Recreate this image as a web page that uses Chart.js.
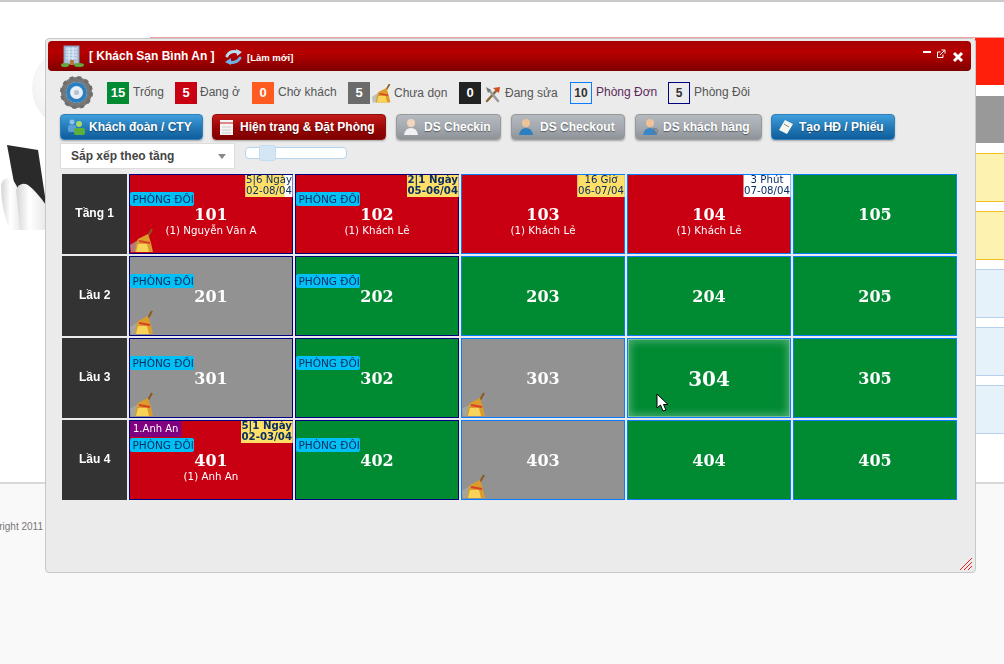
<!DOCTYPE html>
<html>
<head>
<meta charset="utf-8">
<script src="https://cdn.jsdelivr.net/npm/chart.js@4"></script>
<style>
html, body { margin: 0; padding: 0; }
body { width: 1004px; height: 664px; overflow: hidden; position: relative; background: #fff; font-family: "Liberation Sans", Arial, sans-serif; }
.abs, .count, .lbl, .btn, svg.abs, #roomChart, canvas.abs { position: absolute; }
.side { position: absolute; left: 975px; width: 29px; }
#win { position: absolute; left: 45px; top: 38px; width: 929px; height: 533px; background: #ebebeb; border: 1px solid #c8c8c8; border-radius: 4px; box-sizing: content-box; }
#bar { position: absolute; left: 48px; top: 41px; width: 923px; height: 30px; border-radius: 4px; background: linear-gradient(#a60000, #b70000 35%, #a50000 60%, #7e0000); }
.count { top: 82px; width: 22px; height: 22px; line-height: 22px; text-align: center; color: #fff; font-weight: bold; font-size: 13px; }
.lbl { top: 84px; font-size: 12px; line-height: 16px; color: #555; white-space: nowrap; }
.btn { top: 114px; height: 26px; box-sizing: border-box; border-radius: 4px; color: #fff; font-weight: bold; font-size: 12px; line-height: 25px; text-shadow: 0 1px 1px rgba(0,0,0,.45); white-space: nowrap; box-shadow: 0 1px 2px rgba(0,0,0,.3); }
.btn span { position: absolute; top: 0; }
.blue { background: linear-gradient(#3f9fdc, #2277b5 55%, #0e5d9c); border: 1px solid #2f7fb8; }
.red { background: linear-gradient(#c41a1a, #9a0505 55%, #7e0000); border: 1px solid #8a1010; }
.gray { background: linear-gradient(#b5bac0, #a3a8ae 55%, #8e9399); border: 1px solid #9a9a9a; }
</style>
</head>
<body>

<!-- page behind the window -->
<div class="abs" style="left:0;top:0;width:1004px;height:2px;background:#c9c9c9"></div>
<div class="abs" style="left:150px;top:37px;width:854px;height:1px;background:#f0a0a0"></div>
<div class="abs" style="left:0;top:482px;width:1004px;height:182px;background:#f9f9f9;border-top:2px solid #d8d8d8;box-sizing:border-box"></div>
<div class="abs" style="left:0;top:520px;width:45px;height:14px;overflow:hidden;font-size:10px;line-height:14px;color:#777"><span style="position:absolute;right:2px;white-space:nowrap">Copyright 2011</span></div>
<svg class="abs" style="left:0;top:40px" width="60" height="200">
  <defs>
    <radialGradient id="ball" cx=".35" cy=".4" r=".8"><stop offset="0" stop-color="#fff"/><stop offset=".7" stop-color="#eee"/><stop offset="1" stop-color="#cfcfcf"/></radialGradient>
    <linearGradient id="arm" x1="0" x2="1"><stop offset="0" stop-color="#d4d4d4"/><stop offset=".45" stop-color="#fff"/><stop offset="1" stop-color="#e8e8e8"/></linearGradient>
  </defs>
  <circle cx="72" cy="48" r="40" fill="url(#ball)"/>
  <path d="M7 105 L38 110 L46 163 L46 175 L20 175 Z" fill="#2a2a2a"/>
  <path d="M1 145 Q3 136 12 139 Q17 145 18 150 L22 190 L10 190 Q1 170 1 145 Z" fill="url(#arm)"/>
  <path d="M16 150 Q20 141 28 145 Q36 151 46 165 L46 190 L20 190 Z" fill="url(#arm)"/>
</svg>
<div class="side" style="top:38px;height:47px;background:#ff1f0a"></div>
<div class="side" style="top:96px;height:47px;background:#999"></div>
<div class="side" style="top:153px;height:47px;background:#fdf2b0;border-top:1px solid #f0c020;border-bottom:1px solid #f0c020"></div>
<div class="side" style="top:211px;height:47px;background:#fdf2b0;border-top:1px solid #f0c020;border-bottom:1px solid #f0c020"></div>
<div class="side" style="top:269px;height:47px;background:#e6f2f9;border-top:1px solid #b9cfee;border-bottom:1px solid #b9cfee"></div>
<div class="side" style="top:327px;height:47px;background:#e6f2f9;border-top:1px solid #b9cfee;border-bottom:1px solid #b9cfee"></div>
<div class="side" style="top:385px;height:47px;background:#e6f2f9;border-top:1px solid #b9cfee;border-bottom:1px solid #b9cfee"></div>

<!-- window -->
<div id="win"></div>
<div id="bar"></div>
<svg class="abs" style="left:61px;top:44px" width="24" height="24">
  <rect x="3" y="2" width="15" height="18" fill="#a9c2de" stroke="#8397ad"/>
  <path d="M5 5h11M5 8h11M5 11h11M5 14h11M8 3v14M12 3v14" stroke="#e6eef7" stroke-width="1"/>
  <rect x="9" y="16" width="4" height="5" fill="#b57a3c"/>
  <ellipse cx="4" cy="21" rx="4" ry="2" fill="#62a83c"/><ellipse cx="18" cy="21" rx="5" ry="2" fill="#62a83c"/>
</svg>
<div class="abs" style="left:89px;top:49px;color:#fff;font-weight:bold;font-size:12px;line-height:15px;white-space:nowrap" id="hotelName"></div>
<svg class="abs" style="left:224px;top:48px" width="19" height="18" fill="none" stroke-linecap="round">
  <path d="M3 8 Q6 2 14 4" stroke="#b9dcf5" stroke-width="3"/><path d="M12 1 L18 4 L13 8 Z" fill="#b9dcf5"/>
  <path d="M16 10 Q12 16 5 14" stroke="#6fb0e6" stroke-width="3"/><path d="M7 10 L1 14 L7 17 Z" fill="#6fb0e6"/>
</svg>
<div class="abs" style="left:247px;top:51px;color:#fff;font-weight:bold;font-size:9.5px;line-height:13px;white-space:nowrap">[Làm mới]</div>
<div class="abs" style="left:923px;top:51px;width:8px;height:2px;background:#fff"></div>
<svg class="abs" style="left:936px;top:49px" width="10" height="10" fill="none" stroke="#fff"><path d="M7 5.5V8.5H1.5V3H4.5"/><path d="M4 6L8.5 1.5M5.5 1H9V4.5"/></svg>
<svg class="abs" style="left:952px;top:51px" width="12" height="12" stroke="#fff" stroke-width="3"><path d="M2 2L10 10M10 2L2 10"/></svg>

<!-- legend -->
<svg class="abs" style="left:60px;top:76px" width="33" height="33">
  <circle cx="16.5" cy="16.5" r="13" fill="none" stroke="#777" stroke-width="5"/>
  <circle cx="16.5" cy="16.5" r="15" fill="none" stroke="#6d6d6d" stroke-width="3" stroke-dasharray="4 3.9"/>
  <circle cx="16.5" cy="16.5" r="10.5" fill="#2a7fc0"/><circle cx="16.5" cy="16.5" r="6.5" fill="#e8eef3"/><circle cx="16.5" cy="16.5" r="2.5" fill="#b5c2cc"/>
</svg>
<div class="count" style="left:107px;background:#008a32"></div><div class="lbl" style="left:133px"></div>
<div class="count" style="left:175px;background:#c90012"></div><div class="lbl" style="left:200px"></div>
<div class="count" style="left:252px;background:#ff5a1f"></div><div class="lbl" style="left:278px"></div>
<div class="count" style="left:348px;background:#6b6b6b"></div><canvas class="abs" id="legendBroom" style="left:372px;top:84px" width="20" height="20"></canvas><div class="lbl" style="left:394px;top:85px"></div>
<div class="count" style="left:459px;background:#222"></div>
<svg class="abs" style="left:484px;top:85px" width="17" height="18" stroke-linecap="round"><path d="M3 16L13 5" stroke="#8a6a3a" stroke-width="2.5"/><path d="M14 16L5 5" stroke="#999" stroke-width="2.5"/><path d="M9 3L16 2L15 8Z" fill="#d94b1e"/><path d="M2 2L7 5L4 8Z" fill="#777"/></svg>
<div class="lbl" style="left:505px;top:85px"></div>
<div class="count" style="left:570px;box-sizing:border-box;border:1px solid #0a7cff;color:#333;line-height:21px;font-size:12px"></div><div class="lbl" style="left:596px;color:#5c2a5c"></div>
<div class="count" style="left:668px;box-sizing:border-box;border:1px solid #000080;color:#333;line-height:21px;font-size:12px"></div><div class="lbl" style="left:694px"></div>

<!-- toolbar -->
<div class="btn blue" style="left:60px;width:143px"><span style="left:28px">Khách đoàn / CTY</span></div>
<div class="btn red" style="left:212px;width:174px"><span style="left:27px">Hiện trạng &amp; Đặt Phòng</span></div>
<div class="btn gray" style="left:396px;width:105px"><span style="left:27px">DS Checkin</span></div>
<div class="btn gray" style="left:511px;width:114px"><span style="left:28px">DS Checkout</span></div>
<div class="btn gray" style="left:635px;width:127px"><span style="left:27px">DS khách hàng</span></div>
<div class="btn blue" style="left:771px;width:124px"><span style="left:27px">Tạo HĐ / Phiếu</span></div>
<svg class="abs" style="left:66px;top:117px" width="20" height="20"><circle cx="6" cy="5" r="2.5" fill="#8fc4ea"/><rect x="2" y="8" width="8" height="7" rx="2" fill="#5aa0d8"/><circle cx="13" cy="7" r="3" fill="#a6d86a"/><rect x="8" y="11" width="11" height="7" rx="2" fill="#5bb03c"/></svg>
<svg class="abs" style="left:219px;top:118px" width="16" height="18"><rect x="1" y="2" width="13" height="15" fill="#f4f4f4"/><path d="M1 5h13" stroke="#d88" stroke-width="2"/><path d="M3 9h9M3 12h9M3 15h9" stroke="#ccc"/></svg>
<svg class="abs" style="left:403px;top:118px" width="16" height="18"><circle cx="8" cy="5" r="4" fill="#f1d6bb"/><path d="M1 17Q2 10 8 10T15 17Z" fill="#f1f1f1"/></svg>
<svg class="abs" style="left:518px;top:118px" width="16" height="18"><circle cx="8" cy="5" r="4" fill="#eec39a"/><path d="M1 17Q2 10 8 10T15 17Z" fill="#2f7fc0"/></svg>
<svg class="abs" style="left:642px;top:118px" width="18" height="18"><circle cx="8" cy="5" r="4" fill="#eec39a"/><path d="M1 17Q2 10 8 10T15 17Z" fill="#3b86c6"/><circle cx="13" cy="13" r="2.5" fill="none" stroke="#777"/></svg>
<svg class="abs" style="left:778px;top:118px" width="17" height="18"><path d="M7 2L15 6L9 16L1 12Z" fill="#f6f6f0"/><path d="M6 6L11 9" stroke="#888"/></svg>

<div class="abs" style="left:60px;top:143px;width:175px;height:26px;box-sizing:border-box;background:#fff;border:1px solid #ddd;font-size:12px;font-weight:bold;line-height:24px;color:#444;padding-left:10px;white-space:nowrap">Sắp xếp theo tầng</div>
<div class="abs" style="left:218px;top:154px;width:0;height:0;border-left:4px solid transparent;border-right:4px solid transparent;border-top:5px solid #888"></div>
<div class="abs" style="left:245px;top:147px;width:102px;height:12px;box-sizing:border-box;background:#fff;border:1px solid #b4d4ee;border-radius:4px"></div>
<div class="abs" style="left:259px;top:145px;width:17px;height:16px;box-sizing:border-box;background:#d4e6f4;border:1px solid #c2dcf0;border-radius:3px"></div>

<!-- room grid -->
<canvas id="roomChart" style="left:62px;top:173px" width="896" height="328"></canvas>

<svg class="abs" style="left:959px;top:557px" width="14" height="14" stroke="#e22" stroke-width="1"><path d="M1 13L13 1M5 13L13 5M9 13L13 9"/></svg>
<svg class="abs" style="left:656px;top:393px" width="14" height="20"><path d="M1 1V15L4.5 12L7 18L10 17L7.5 11.5H12Z" fill="#fff" stroke="#000"/></svg>

<script>
const hotelName = "[ Khách Sạn Bình An ]";
const legendCounts = [15, 5, 0, 5, 0, 10, 5];
const legendLabels = ["Trống", "Đang ở", "Chờ khách", "Chưa dọn", "Đang sửa", "Phòng Đơn", "Phòng Đôi"];

const floors = ["Tầng 1", "Lầu 2", "Lầu 3", "Lầu 4"];
const roomNumbers = [
    ["101", "102", "103", "104", "105"],
    ["201", "202", "203", "204", "205"],
    ["301", "302", "303", "304", "305"],
    ["401", "402", "403", "404", "405"],
];
// o = occupied, t = free, c = needs cleaning
const roomStatus = [
    ["o", "o", "o", "o", "t"],
    ["c", "t", "t", "t", "t"],
    ["c", "t", "c", "t", "t"],
    ["o", "t", "c", "t", "t"],
];
const doubleRooms = [
    [1, 1, 0, 0, 0],
    [1, 1, 0, 0, 0],
    [1, 1, 0, 0, 0],
    [1, 1, 0, 0, 0],
];
const guests = [
    ["(1) Nguyễn Văn A", "(1) Khách Lẻ", "(1) Khách Lẻ", "(1) Khách Lẻ", null],
    [null, null, null, null, null],
    [null, null, null, null, null],
    ["(1) Anh An", null, null, null, null],
];
const stayLength = [
    ["5|6 Ngày", "2|1 Ngày", "16 Giờ", "3 Phút", null],
    [null, null, null, null, null],
    [null, null, null, null, null],
    ["5|1 Ngày", null, null, null, null],
];
const stayDates = [
    ["02-08/04", "05-06/04", "06-07/04", "07-08/04", null],
    [null, null, null, null, null],
    [null, null, null, null, null],
    ["02-03/04", null, null, null, null],
];
// share of the stay already used, shown in yellow
const stayUsed = [
    [0.83, 1, 1, 0, 0],
    [0, 0, 0, 0, 0],
    [0, 0, 0, 0, 0],
    [1, 0, 0, 0, 0],
];
const stayOverdue = [
    [0, 1, 0, 0, 0],
    [0, 0, 0, 0, 0],
    [0, 0, 0, 0, 0],
    [1, 0, 0, 0, 0],
];
const groupTags = [
    [null, null, null, null, null],
    [null, null, null, null, null],
    [null, null, null, null, null],
    ["1.Anh An", null, null, null, null],
];
const hoveredRoom = "304";

const statusColors = { o: "#c90012", t: "#008a32", c: "#929292" };

document.getElementById("hotelName").textContent = hotelName;
document.querySelectorAll(".count").forEach((el, i) => { el.textContent = legendCounts[i]; });
document.querySelectorAll(".lbl").forEach((el, i) => { el.textContent = legendLabels[i]; });

// little broom icon
const drawBroom = (ctx, x, y, s) => {
    ctx.save();
    ctx.translate(x, y);
    ctx.scale(s, s);
    ctx.fillStyle = "rgba(170,175,165,.7)";
    ctx.beginPath(); ctx.moveTo(0, 16); ctx.lineTo(8, 11); ctx.lineTo(6, 23); ctx.lineTo(1, 23); ctx.fill();
    ctx.strokeStyle = "#8a5a1c";
    ctx.lineWidth = 2;
    ctx.beginPath(); ctx.moveTo(22, 0); ctx.lineTo(18, 7); ctx.stroke();
    ctx.fillStyle = "#dc9c2c";
    ctx.beginPath();
    ctx.moveTo(8, 10); ctx.lineTo(18, 5); ctx.lineTo(21, 14); ctx.lineTo(23, 23);
    ctx.lineTo(5, 23); ctx.lineTo(6, 16); ctx.closePath(); ctx.fill();
    ctx.fillStyle = "#f7d35a";
    ctx.beginPath(); ctx.moveTo(8, 15); ctx.lineTo(17, 15); ctx.lineTo(19, 23); ctx.lineTo(6, 23); ctx.closePath(); ctx.fill();
    ctx.strokeStyle = "#d8402a";
    ctx.lineWidth = 1.8;
    ctx.beginPath(); ctx.moveTo(9, 12); ctx.lineTo(20, 14); ctx.stroke();
    ctx.restore();
};
drawBroom(document.getElementById("legendBroom").getContext("2d"), 0, 0, 0.8);

const inkDark = "#0b2f63";
const numberFont = "'DejaVu Serif', serif";
const smallFont = "'DejaVu Sans', sans-serif";

// Dark floor cells go under the axis labels
const floorCells = {
    id: "floorCells",
    beforeDraw(chart) {
        const { ctx, scales: { y } } = chart;
        ctx.save();
        ctx.fillStyle = "#333333";
        floors.forEach((f, r) => {
            ctx.fillRect(0, y.getPixelForValue(r) - 40, y.right - 1, 80);
        });
        ctx.restore();
    },
};

// Text, badges and icons on top of each room
const roomLabels = {
    id: "roomLabels",
    afterDatasetsDraw(chart) {
        const { ctx } = chart;
        ctx.save();
        roomNumbers.forEach((row, r) => {
            row.forEach((room, c) => {
                const bar = chart.getDatasetMeta(c).data[r];
                const left = bar.base, right = bar.x, top = bar.y - 40;
                const mid = (left + right) / 2;
                const hovered = room === hoveredRoom;

                if (hovered) {
                    ctx.save();
                    ctx.beginPath();
                    ctx.rect(left + 1, top + 1, right - left - 2, 78);
                    ctx.clip();
                    ctx.shadowColor = "rgba(215,240,235,.95)";
                    ctx.shadowBlur = 8;
                    ctx.strokeStyle = "rgba(200,230,225,.9)";
                    ctx.lineWidth = 3;
                    ctx.strokeRect(left, top, right - left, 80);
                    ctx.restore();
                }

                ctx.textBaseline = "middle";
                ctx.textAlign = "center";
                ctx.fillStyle = "#fff";
                ctx.font = `bold ${hovered ? 20 : 16}px ${numberFont}`;
                ctx.fillText(room, mid, bar.y + (hovered ? 3 : 2));

                if (guests[r][c]) {
                    ctx.font = `10.3px ${smallFont}`;
                    ctx.fillText(guests[r][c], mid, top + 57);
                }

                ctx.textAlign = "left";
                if (groupTags[r][c]) {
                    ctx.font = `10px ${smallFont}`;
                    const w = ctx.measureText(groupTags[r][c]).width + 6;
                    ctx.fillStyle = "#800080";
                    ctx.fillRect(left + 1, top + 1, w, 16);
                    ctx.fillStyle = "#fff";
                    ctx.fillText(groupTags[r][c], left + 4, top + 9.5);
                }
                if (doubleRooms[r][c]) {
                    ctx.font = `10.5px ${smallFont}`;
                    ctx.fillStyle = "#00c0f5";
                    ctx.beginPath();
                    ctx.roundRect(left + 1, top + 18, 64, 14, 2);
                    ctx.fill();
                    ctx.fillStyle = inkDark;
                    ctx.fillText("PHÒNG ĐÔI", left + 3.5, top + 26);
                }

                if (stayDates[r][c]) {
                    const bold = stayOverdue[r][c] ? "bold " : "";
                    ctx.font = `${bold}10.2px ${smallFont}`;
                    const w = ctx.measureText(stayDates[r][c]).width + 1;
                    const boxLeft = right - 0.5 - w;
                    ctx.fillStyle = "#fff";
                    ctx.fillRect(boxLeft, top + 1, w, 22);
                    ctx.fillStyle = "#ffdf66";
                    ctx.fillRect(boxLeft, top + 1, w * stayUsed[r][c], 22);
                    ctx.fillStyle = inkDark;
                    ctx.textAlign = "center";
                    ctx.fillText(stayLength[r][c], boxLeft + w / 2, top + 6.5);
                    ctx.fillText(stayDates[r][c], boxLeft + w / 2, top + 17.5);
                }

                if (roomStatus[r][c] === "c" || room === "101") {
                    drawBroom(ctx, left + 1, top + 55, 1);
                }
            });
        });
        ctx.restore();
    },
};

// One dataset per column, one floating bar per floor
const datasets = roomNumbers[0].map((_, c) => ({
    label: "col" + c,
    data: floors.map(() => [c + 1 / 166, c + 1 - 1 / 166]),
    backgroundColor: floors.map((f, r) => statusColors[roomStatus[r][c]]),
    borderColor: floors.map((f, r) => (doubleRooms[r][c] ? "#000080" : "#0a7cff")),
    borderWidth: 1,
    borderSkipped: false,
    barPercentage: 80 / 82,
    categoryPercentage: 1,
}));

new Chart(document.getElementById("roomChart"), {
    type: "bar",
    data: { labels: floors, datasets },
    plugins: [floorCells, roomLabels],
    options: {
        indexAxis: "y",
        responsive: false,
        animation: false,
        grouped: false,
        events: [],
        layout: { padding: 0 },
        plugins: { legend: { display: false }, tooltip: { enabled: false } },
        scales: {
            x: { type: "linear", min: 0, max: 5, display: false },
            y: {
                grid: { display: false, drawTicks: false },
                border: { display: false },
                ticks: {
                    color: "#fff",
                    crossAlign: "center",
                    padding: 14,
                    font: { family: "'Liberation Sans'", size: 12, weight: "bold" },
                },
                afterFit(scale) {
                    scale.width = 66;
                    // tick padding would otherwise eat into the rows
                    scale.paddingTop = 0;
                    scale.paddingBottom = 0;
                },
            },
        },
    },
});
</script>
</body>
</html>
